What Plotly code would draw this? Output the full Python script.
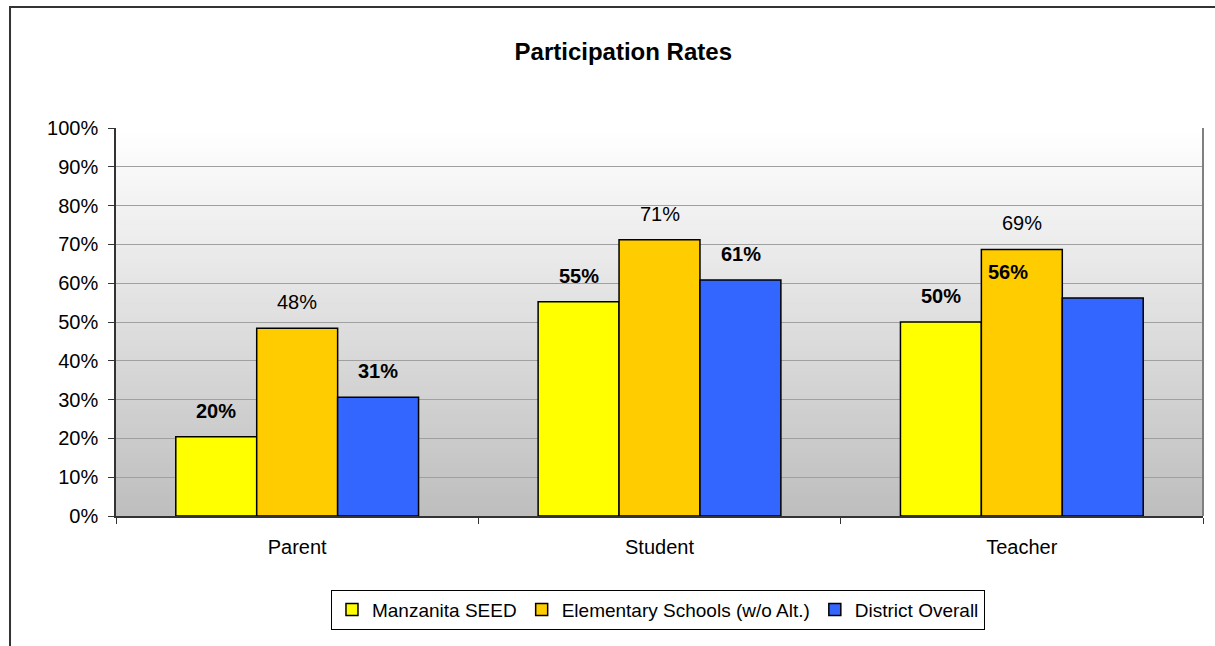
import plotly.graph_objects as go

categories = ["Parent", "Student", "Teacher"]
manzanita = [0.204, 0.552, 0.500]
elementary = [0.484, 0.712, 0.687]
district = [0.306, 0.608, 0.562]
series_names = ["Manzanita SEED", "Elementary Schools (w/o Alt.)", "District Overall"]
tick_vals = [i / 10 for i in range(11)]
tick_text = ["%d%%" % (i * 10) for i in range(11)]

colors = ["#FFFF00", "#FFCC00", "#3366FF"]
font = "Liberation Sans, Arial, sans-serif"

fig = go.Figure()
for name, vals, col in zip(series_names, [manzanita, elementary, district], colors):
    fig.add_trace(go.Bar(x=categories, y=vals, name=name,
                         marker=dict(color=col, line=dict(color="black", width=1.5))))

# gradient plot background (white top -> grey bottom)
n = 80
for i in range(n):
    t = i / (n - 1)
    g = int(round(255 - (255 - 190) * (1 - t)))
    fig.add_shape(type="rect", xref="x domain", yref="y domain",
                  x0=0, x1=1, y0=i / n, y1=min(1, (i + 1.6) / n),
                  fillcolor="rgb(%d,%d,%d)" % (g, g, g), line=dict(width=0),
                  layer="below")

# data labels
offsets = [-81, 0, 81]
for s, vals in enumerate([manzanita, elementary, district]):
    for c, cat in enumerate(categories):
        xs = offsets[s]
        if s == 2 and cat == "Teacher":
            xs = -14  # label sits over the orange bar in the original
        fig.add_annotation(x=cat, y=vals[c], xshift=xs, yshift=26,
                           text="%d%%" % round(vals[c] * 100), showarrow=False,
                           font=dict(size=20, color="black", family=font,
                                     weight="bold" if s != 1 else "normal"))

# outer chart border
fig.add_shape(type="rect", xref="paper", yref="paper",
              x0=-0.0975, x1=1.2, y0=-0.6, y1=1.312,
              line=dict(color="#333333", width=2))
# right border of plot area
fig.add_shape(type="line", xref="x domain", yref="y domain",
              x0=1, x1=1, y0=0, y1=1, line=dict(color="#808080", width=2))

fig.update_layout(
    width=1215, height=646,
    margin=dict(l=116, r=12, t=128, b=130),
    paper_bgcolor="white", plot_bgcolor="rgba(0,0,0,0)",
    barmode="group", bargap=0.33, bargroupgap=0,
    font=dict(family=font, size=20, color="black"),
    title=dict(text="<b>Participation Rates</b>", x=0.513, xanchor="center",
               y=0.92, yanchor="middle", font=dict(size=24, family=font)),
    showlegend=True,
    legend=dict(orientation="h", x=0.4986, xanchor="center", y=-0.19, yanchor="top",
                bordercolor="black", borderwidth=1, bgcolor="white",
                font=dict(size=19, family=font), itemwidth=30, traceorder="normal"),
    xaxis=dict(showline=True, linecolor="#333333", linewidth=1.5, ticks="outside",
               tickson="boundaries", ticklen=6, tickcolor="#333333",
               showgrid=False, tickfont=dict(size=20), ticklabelstandoff=12),
    yaxis=dict(range=[0, 1], tickvals=tick_vals, ticktext=tick_text,
               showline=True, linecolor="#333333", linewidth=1.5,
               ticks="outside", ticklen=6, tickcolor="#333333",
               showgrid=True, gridcolor="#A0A0A0", gridwidth=1,
               zeroline=False, tickfont=dict(size=20), ticklabelstandoff=6),
)

fig.write_html("out.html", config={"displayModeBar": False},
               post_script="document.body.style.margin='0';document.body.style.overflow='hidden';")
